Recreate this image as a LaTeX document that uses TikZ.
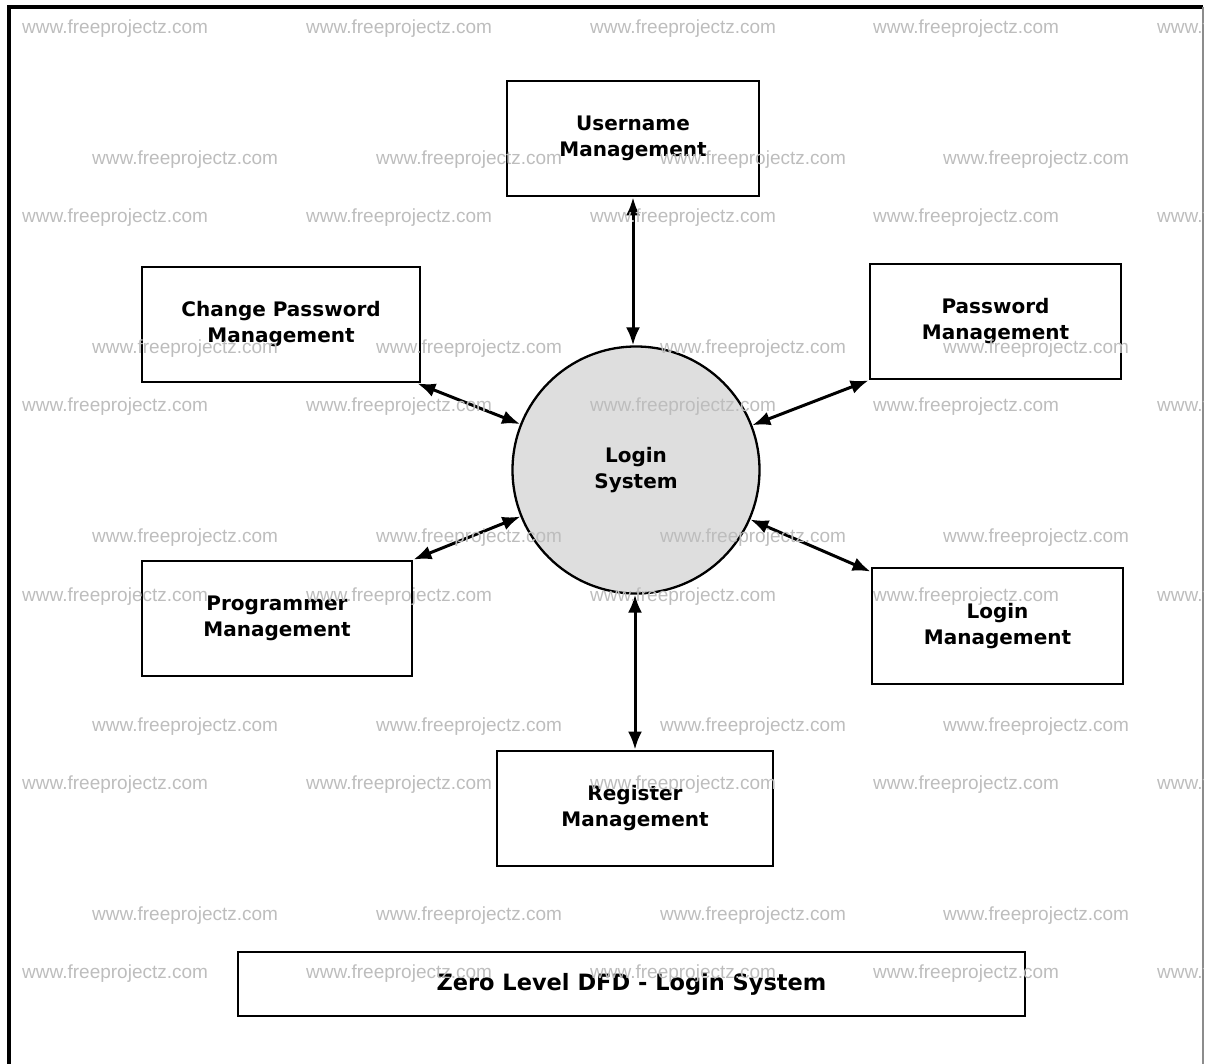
\documentclass[tikz,border=0pt]{standalone}
\usepackage{fontspec}
\setmainfont{DejaVu Sans}
\newfontfamily\wmfont{Liberation Sans}
\usetikzlibrary{arrows.meta}
\tikzset{>={Latex[length=18pt,width=14pt]}}
\tikzset{
  procbox/.style={draw, line width=2.8pt, inner sep=0pt, minimum height=115pt,
    align=center, font=\bfseries\fontsize{20}{26}\selectfont},
  proccircle/.style={circle, draw, line width=2.3pt, fill=black!13, inner sep=0pt,
    minimum size=247pt, align=center, font=\bfseries\fontsize{20}{26}\selectfont},
  flow/.style={<->, line width=3pt},
  wmark/.style={anchor=west, inner sep=0pt, text=black!26,
    font=\wmfont\fontsize{19}{19}\selectfont}
}

\begin{document}
\begin{tikzpicture}[x=1pt, y=-1pt]
  \useasboundingbox (0,0) rectangle (1205,1064);
  % frame
  \draw[line width=4pt] (9,1064) -- (9,7) -- (1203,7);
  \draw[line width=1.5pt, black!45] (1203,7) -- (1203,1064);

  % processes
  \node[proccircle] (login) at (636,470) {Login\\System};
  \node[procbox, minimum width=252pt] (user) at (633,138.5) {Username\\Management};
  \node[procbox, minimum width=278pt] (chpw) at (281,324.5) {Change Password\\Management};
  \node[procbox, minimum width=251pt] (pw) at (995.5,321.5) {Password\\Management};
  \node[procbox, minimum width=270pt] (prog) at (277,618.5) {Programmer\\Management};
  \node[procbox, minimum width=251pt, minimum height=116pt] (lmgmt) at (997.5,626) {Login\\Management};
  \node[procbox, minimum width=276pt] (reg) at (635,808.5) {Register\\Management};

  % flows
  \draw[flow] (user.south) -- (user.south |- login.north);
  \draw[flow] ([xshift=-4pt]chpw.south east) -- (login);
  \draw[flow] (pw.south west) -- (login);
  \draw[flow] (prog.north east) -- (login);
  \draw[flow] ([yshift=-5pt]lmgmt.north west) -- (login);
  \draw[flow] (reg.north) -- (reg.north |- login.south);

  % title
  \node[draw, line width=2.8pt, minimum width=787pt, minimum height=64pt, inner sep=0pt,
    font=\bfseries\fontsize{22.5}{27}\selectfont] (title) at (631.5,984) {Zero Level DFD - Login System};

  % watermark
  \begin{scope}
    \clip (9,7) rectangle (1203,1064);
    \foreach \y in {29,218,407,597,785,974}
      \foreach \x in {22,306,590,873,1157}
        \node[wmark] at (\x,\y) {www.freeprojectz.com};
    \foreach \y in {160,349,538,727,916}
      \foreach \x in {92,376,660,943}
        \node[wmark] at (\x,\y) {www.freeprojectz.com};
  \end{scope}
\end{tikzpicture}
\end{document}
